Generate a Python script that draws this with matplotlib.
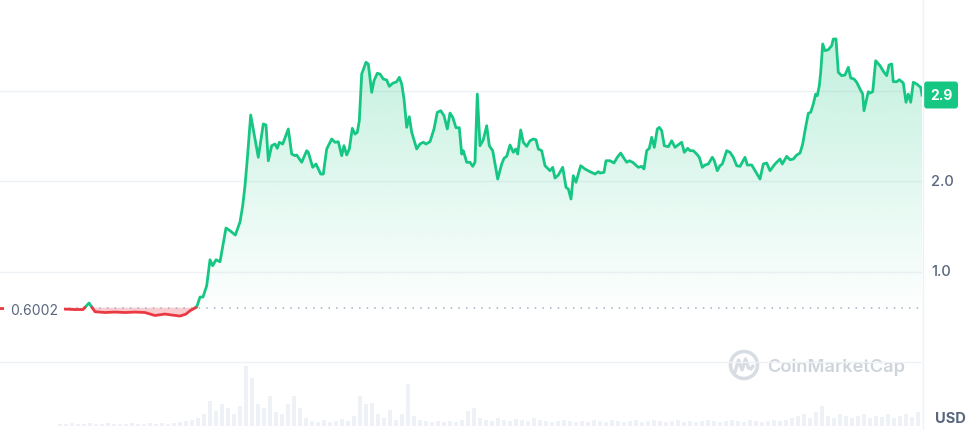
import numpy as np
import matplotlib
matplotlib.use("Agg")
import matplotlib.pyplot as plt
from matplotlib.patches import Polygon, Circle, FancyBboxPatch

plt.rcParams['font.family'] = ['Inter', 'DejaVu Sans']

# price series (time step, USD)
t = [0, 62, 75, 83, 89, 95, 105, 115, 125, 135, 145, 155, 165, 172, 180, 186, 190, 196.7,
     200, 203, 206.7, 210, 212.7, 216, 220, 226, 230, 235.3, 240, 242.7, 245, 247.3, 250.7,
     255, 258.3, 263.3, 266, 268.3, 271.7, 275, 277.3, 279.3, 282.7, 288.3, 291.7, 295,
     296.7, 301.7, 306.7, 308.3, 312.7, 316, 320.7, 323.3, 326.7, 331.7, 335, 338.3, 341.7,
     344, 346.7, 349.3, 352.3, 355, 357.3, 359.3, 361.7, 366, 368.3, 371.7, 374, 377.3, 380,
     383.3, 386.7, 389.3, 392.7, 396.7, 399.3, 401.7, 404, 406.7, 409.3, 411.7, 416.7, 420,
     423.3, 426, 430, 434, 437.3, 440.7, 444, 447.3, 450, 452.7, 456, 459.3, 461.7, 463.3,
     466.7, 470, 472.7, 475, 477.3, 480, 483.3, 486.7, 489.3, 492.7, 497.7, 501.7, 504,
     506.7, 510, 513.3, 515.7, 517.7, 520.7, 523.3, 526.7, 530, 533.3, 536, 538.3, 541.7,
     545, 550, 552.7, 555, 558.3, 562.7, 566, 568.3, 571, 573.3, 576, 580.7, 585, 590, 595,
     598.3, 600, 604, 606, 610, 614, 617.3, 620.7, 623.3, 626.7, 629.3, 632.7, 638.3, 641.7,
     644, 646.7, 649.3, 651.7, 654.3, 657.3, 659.3, 661.7, 664.3, 668.3, 671.7, 675, 679.3,
     681.7, 684.3, 687.7, 690, 693.3, 696.7, 699.3, 702.3, 705, 708.3, 712.3, 714.3, 717.3,
     720, 722.3, 726.7, 730, 733.3, 736.7, 740, 745, 747.3, 751.7, 756, 760, 763.3, 766.7,
     770, 775, 780, 782.3, 786.7, 790, 793.3, 796.7, 800, 802.7, 805, 808.3, 810.7, 813.3,
     815.7, 817.3, 819.3, 820.7, 822.7, 825, 828.3, 831.7, 833.3, 836, 838.3, 841.7, 845,
     848.3, 850.7, 854, 856.7, 860, 862.7, 864, 866.7, 868.3, 870, 872.7, 875.7, 880, 884,
     886.7, 889, 891.7, 893.3, 896.7, 899.3, 903.3, 906, 908.3, 910.7, 913.3, 916.7, 920.7, 922]
price = [0.591, 0.586, 0.580, 0.580, 0.652, 0.556, 0.547, 0.552, 0.547, 0.552, 0.547, 0.514,
         0.530, 0.519, 0.508, 0.530, 0.567, 0.608, 0.718, 0.718, 0.843, 1.130, 1.064, 1.130,
         1.108, 1.481, 1.451, 1.403, 1.547, 1.727, 1.948, 2.243, 2.729, 2.464, 2.262, 2.630,
         2.619, 2.224, 2.390, 2.409, 2.361, 2.428, 2.409, 2.575, 2.298, 2.280, 2.287, 2.207,
         2.335, 2.317, 2.151, 2.188, 2.077, 2.077, 2.354, 2.464, 2.428, 2.434, 2.280, 2.390,
         2.287, 2.354, 2.582, 2.519, 2.538, 2.666, 3.182, 3.312, 3.293, 2.980, 3.108, 3.190,
         3.182, 3.127, 3.116, 3.046, 3.080, 3.097, 3.146, 3.072, 2.906, 2.593, 2.710, 2.538,
         2.354, 2.409, 2.428, 2.409, 2.434, 2.575, 2.759, 2.777, 2.722, 2.575, 2.751, 2.704,
         2.589, 2.589, 2.298, 2.335, 2.207, 2.207, 2.162, 2.207, 2.961, 2.390, 2.456, 2.611,
         2.390, 2.335, 2.022, 2.188, 2.251, 2.273, 2.398, 2.317, 2.354, 2.298, 2.564, 2.428,
         2.383, 2.445, 2.464, 2.456, 2.354, 2.335, 2.169, 2.114, 2.151, 2.033, 2.066, 2.151,
         1.930, 1.912, 1.801, 2.059, 1.986, 2.169, 2.133, 2.103, 2.077, 2.103, 2.088, 2.096,
         2.224, 2.224, 2.199, 2.262, 2.309, 2.262, 2.207, 2.224, 2.207, 2.151, 2.162, 2.133,
         2.335, 2.361, 2.483, 2.372, 2.575, 2.593, 2.556, 2.390, 2.379, 2.445, 2.372, 2.409,
         2.428, 2.317, 2.361, 2.335, 2.335, 2.298, 2.262, 2.151, 2.177, 2.188, 2.262, 2.224,
         2.114, 2.169, 2.188, 2.335, 2.317, 2.262, 2.169, 2.162, 2.262, 2.177, 2.177, 2.096,
         2.022, 2.188, 2.199, 2.114, 2.188, 2.243, 2.188, 2.273, 2.235, 2.243, 2.287, 2.309,
         2.409, 2.556, 2.748, 2.759, 2.851, 2.961, 2.943, 3.053, 3.201, 3.514, 3.440, 3.451,
         3.495, 3.569, 3.569, 3.201, 3.164, 3.171, 3.256, 3.138, 3.127, 3.091, 3.017, 2.961,
         2.777, 2.906, 2.987, 2.972, 2.987, 3.329, 3.274, 3.201, 3.164, 3.282, 3.293, 3.097,
         3.097, 3.119, 3.083, 2.870, 2.961, 2.870, 3.091, 3.072, 3.035, 2.950]

# traded volume (relative), one bar every 6 steps starting at 60
volume = [2, 2, 3, 2, 2, 3, 2, 2, 3, 2, 2, 2, 3, 2, 2, 3, 2, 3, 2, 3, 4, 5,
          6, 8, 12, 25, 15, 22, 18, 12, 20, 60, 48, 22, 18, 30, 14, 12, 22, 30, 18, 8,
          5, 4, 6, 4, 5, 7, 5, 10, 30, 22, 23, 12, 8, 16, 6, 12, 42, 10, 6, 5,
          4, 5, 4, 5, 4, 6, 15, 18, 8, 6, 5, 8, 6, 5, 7, 6, 5, 8, 6, 5,
          4, 5, 6, 5, 4, 5, 4, 6, 5, 4, 6, 5, 4, 5, 6, 4, 5, 6, 5, 4,
          5, 6, 4, 5, 4, 5, 6, 5, 4, 5, 6, 5, 4, 6, 5, 4, 5, 6, 5, 6,
          8, 10, 12, 8, 14, 20, 10, 8, 12, 10, 8, 10, 12, 8, 10, 9, 12, 8, 10, 12, 9, 14]
vol_t = np.arange(60, 919, 6)

base = 0.6002
last = 2.9
grid_levels = [0, 1, 2, 3]
tick_labels = ["1.0", "2.0"]

GREEN = "#16c784"
RED = "#ea3943"
TXT = "#58667e"


def split_at_base(tt, pp, b):
    xs, ys = [tt[0]], [pp[0]]
    for i in range(1, len(tt)):
        a, c = pp[i - 1] - b, pp[i] - b
        if a * c < 0:
            f = a / (a - c)
            xs.append(tt[i - 1] + f * (tt[i] - tt[i - 1]))
            ys.append(b)
        xs.append(tt[i])
        ys.append(pp[i])
    return np.array(xs), np.array(ys)


fig = plt.figure(figsize=(9.76, 4.31), dpi=100)
ax = fig.add_axes([0, 0, 922 / 976, 1])
ymin, ymax = -0.751, 4.011
ax.set_xlim(0, 922)
ax.set_ylim(ymin, ymax)
ax.axis("off")

# volume bars on their own scale at the bottom
axv = ax.twinx()
axv.set_ylim(-4, 427)
axv.bar(vol_t, volume, width=3.2, color="#eef1f5", zorder=0)
axv.axis("off")
ax.set_zorder(axv.get_zorder() + 1)
ax.patch.set_visible(False)

for g in grid_levels:
    ax.axhline(g, color="#eff2f5", lw=1, zorder=1)

xs, ys = split_at_base(t, price, base)

# green gradient fill above base
up = np.maximum(ys, base)
poly = Polygon(np.column_stack([np.r_[xs[0], xs, xs[-1]], np.r_[base, up, base]]),
               closed=True, facecolor="none", edgecolor="none")
ax.add_patch(poly)
n = 256
alpha = np.linspace(0.01, 0.30, n)
rgb = matplotlib.colors.to_rgb(GREEN)
grad = np.zeros((n, 1, 4))
grad[:, 0, :3] = rgb
grad[:, 0, 3] = alpha
img = ax.imshow(grad, extent=[0, 922, base, ymax], origin="lower", aspect="auto", zorder=2,
                interpolation="bilinear")
img.set_clip_path(poly)

# red fill below base
ax.fill_between(xs, ys, base, where=ys <= base, color=RED, alpha=0.25, lw=0, zorder=2)

ax.plot([0, 922], [base, base], color="#a6b0c3", lw=1.1, ls=(0, (1, 4)), zorder=3)

green = np.where(ys >= base, ys, np.nan)
red = np.where(ys <= base, ys, np.nan)
ax.plot(xs, green, color=GREEN, lw=2.0, zorder=4, solid_joinstyle="round")
ax.plot(xs, red, color=RED, lw=2.0, zorder=4, solid_joinstyle="round")

ax.text(10, base - 0.02, "0.6002", color=TXT, fontsize=10, va="center", ha="left",
        zorder=5, bbox=dict(facecolor="white", edgecolor="none", pad=4.5))

# overlay in pixel space for axis labels and watermark
ov = fig.add_axes([0, 0, 1, 1])
ov.set_xlim(0, 976)
ov.set_ylim(431, 0)
ov.axis("off")
ov.patch.set_visible(False)

ov.plot([922.5, 922.5], [0, 431], color="#eff2f5", lw=1)

for lab in tick_labels:
    v = float(lab)
    ov.text(931, 363 - v * 90.5, lab, color=TXT, fontsize=10.5, va="center", ha="left",
            fontweight="medium")

ov.add_patch(FancyBboxPatch((924, 82.5), 34, 27, boxstyle="round,pad=0,rounding_size=3",
                            facecolor=GREEN, edgecolor="none"))
ov.text(941, 96.5, f"{last}", color="white", fontsize=10, fontweight="bold",
        ha="center", va="center")

ov.text(935, 419, "USD", color=TXT, fontsize=10.5, fontweight="bold", ha="left", va="center")

# CoinMarketCap watermark
ov.add_patch(Circle((744, 366), 13.5, facecolor="none", edgecolor="#d8dce3", lw=2.6))
wx = np.array([735, 738.5, 742, 745.5, 748.5, 751, 753])
wy = np.array([373, 361, 371, 360, 369, 370, 367])
ov.plot(wx, wy, color="#d8dce3", lw=2.4, solid_capstyle="round", solid_joinstyle="round")
ov.text(767, 367.5, "CoinMarketCap", color="#cfd4dc", fontsize=13.2, fontweight="semibold",
        ha="left", va="center")

fig.savefig("out.png", dpi=100)
